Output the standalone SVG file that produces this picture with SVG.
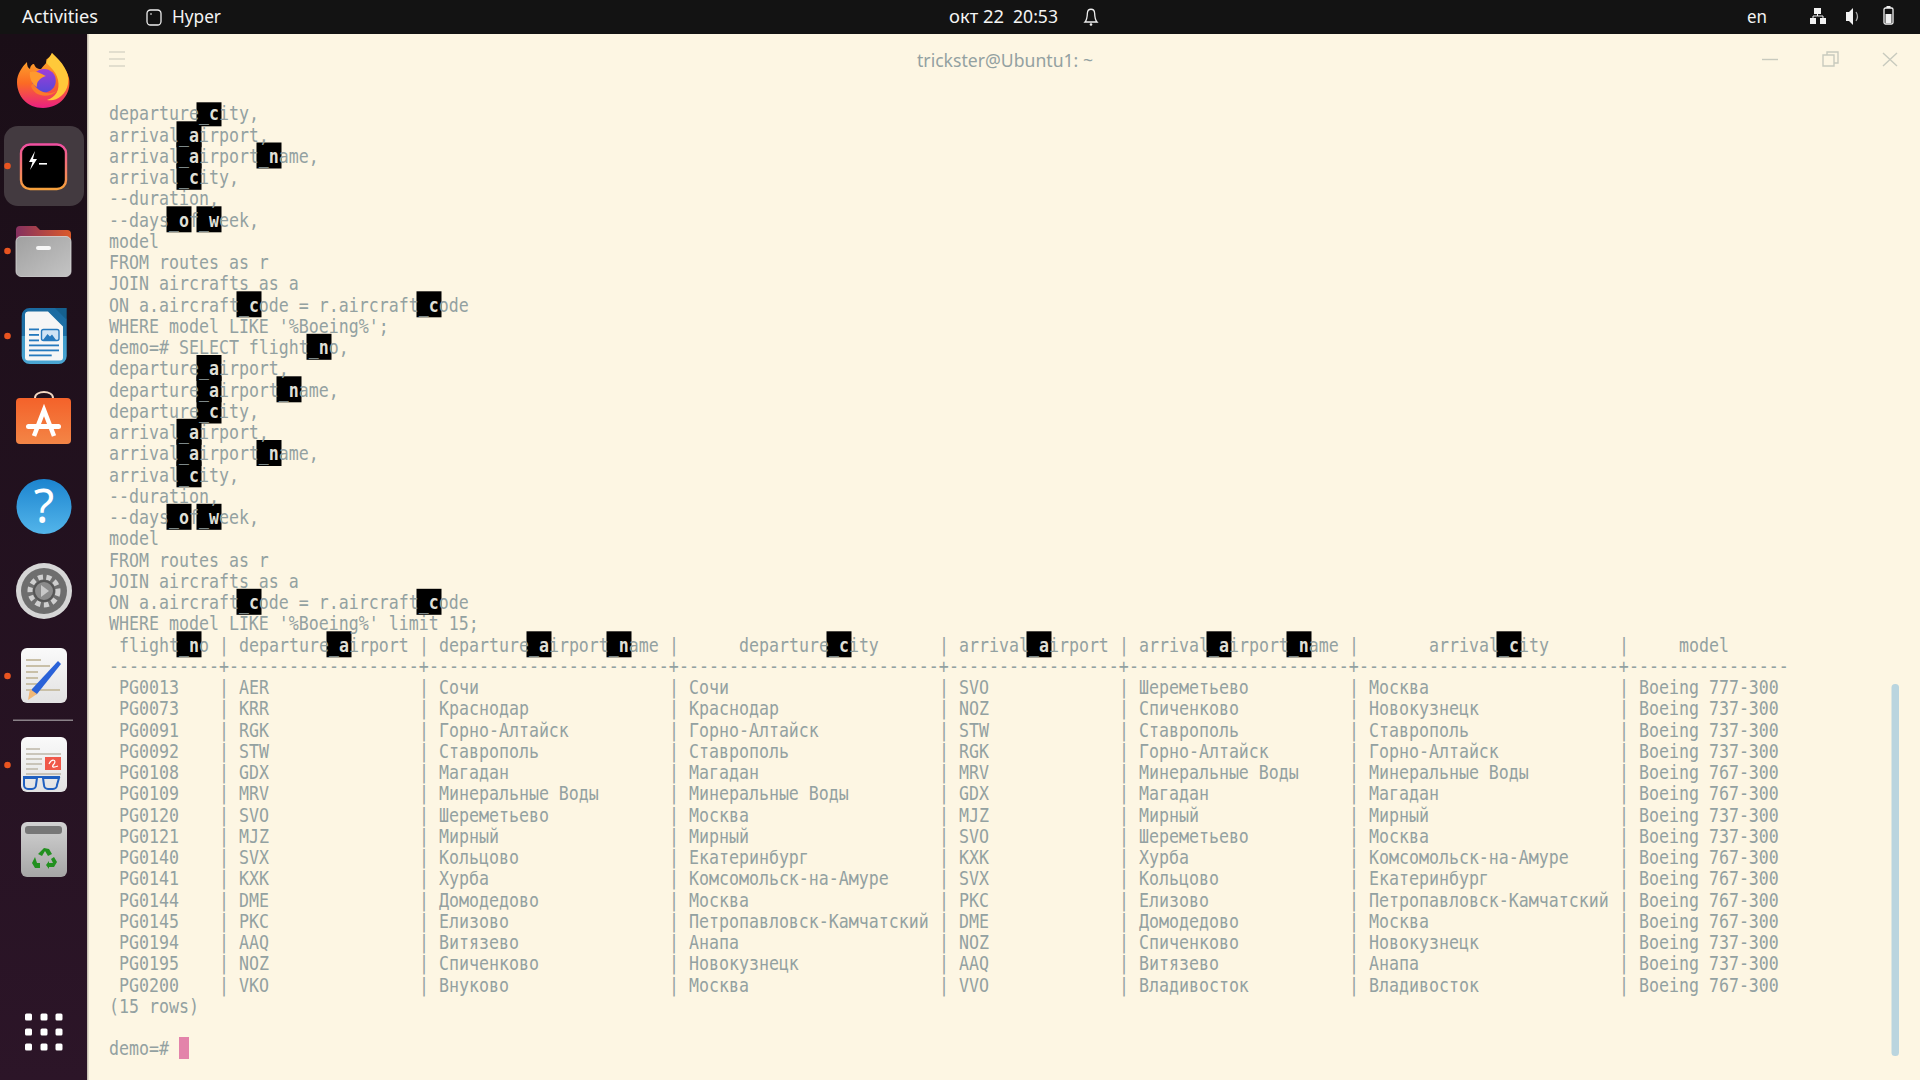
<svg xmlns="http://www.w3.org/2000/svg" width="1920" height="1080" viewBox="0 0 1920 1080">
<style>
.t{font-family:"DejaVu Sans Mono","Liberation Mono",monospace;font-size:19px;fill:#93a1a1;white-space:pre}
.u{fill:#7d8888}
.l{font-weight:bold;fill:#dfdfd6}
.b{fill:#000}
.top{font-family:"Noto Sans","Open Sans",sans-serif;font-size:18px;fill:#f4f4f4}
.ctl{fill:none;stroke:#c8cabe;stroke-width:1.4}
.dot{fill:#e95420}
.dk{fill:#fff}
</style>
<defs>
<linearGradient id="side" x1="0" y1="0" x2="0" y2="1"><stop offset="0" stop-color="#1a0e17"/><stop offset="1" stop-color="#2c1528"/></linearGradient>
<linearGradient id="term" x1="0" y1="0" x2="0" y2="1"><stop offset="0" stop-color="#ef4fa0"/><stop offset="1" stop-color="#f7a13c"/></linearGradient>
<linearGradient id="ff" x1="0" y1="0" x2="0" y2="1"><stop offset="0" stop-color="#ffb52e"/><stop offset=".55" stop-color="#fb6b24"/><stop offset="1" stop-color="#ea1f82"/></linearGradient>
<linearGradient id="fp" x1="0" y1="0" x2="0" y2="1"><stop offset="0" stop-color="#a03ed8"/><stop offset="1" stop-color="#5848d8"/></linearGradient>
<linearGradient id="help" x1="0" y1="0" x2="0" y2="1"><stop offset="0" stop-color="#1c84cf"/><stop offset="1" stop-color="#53b5ea"/></linearGradient>
<linearGradient id="grey" x1="0" y1="0" x2="0" y2="1"><stop offset="0" stop-color="#d2d2d2"/><stop offset="1" stop-color="#a6a6a6"/></linearGradient>
<linearGradient id="fb" x1="0" y1="0" x2="1" y2="1"><stop offset="0" stop-color="#a0a0a0"/><stop offset="1" stop-color="#c4c4c4"/></linearGradient>
<linearGradient id="shop" x1="0" y1="0" x2="0" y2="1"><stop offset="0" stop-color="#f4622a"/><stop offset="1" stop-color="#f38546"/></linearGradient>
<linearGradient id="fold" x1="0" y1="0" x2="1" y2="0"><stop offset="0" stop-color="#84305f"/><stop offset="1" stop-color="#dc5a2a"/></linearGradient>
<linearGradient id="wr" x1="0" y1="0" x2="0" y2="1"><stop offset="0" stop-color="#1b6aa0"/><stop offset=".5" stop-color="#1f72a8"/><stop offset=".5" stop-color="#3f9ccb"/><stop offset="1" stop-color="#4aa5d2"/></linearGradient>
<linearGradient id="pg" x1="0" y1="0" x2="0" y2="1"><stop offset="0" stop-color="#fafafa"/><stop offset="1" stop-color="#e2e2e2"/></linearGradient>
</defs>

<rect id="window" x="87" y="33" width="1833" height="1047" fill="#fdf6e3"/>
<g id="topbar">
<rect width="1920" height="34" fill="#131313"/>
<text class="top" x="22" y="23" textLength="76" lengthAdjust="spacingAndGlyphs">Activities</text>
<rect x="147" y="10" width="14" height="15" rx="3.500" fill="#111" stroke="#eee" stroke-width="1.300"/>
<path d="M150 14h2" stroke="#eee" stroke-width="1.200"/>
<text class="top" x="172" y="23" textLength="49" lengthAdjust="spacingAndGlyphs">Hyper</text>
<text class="top" x="949" y="23" textLength="55" lengthAdjust="spacingAndGlyphs">окт 22</text>
<text class="top" x="1013" y="23" textLength="45" lengthAdjust="spacingAndGlyphs">20:53</text>
<path d="M1085 22c2-2 2.200-4 2.400-9c.3-5 6.900-5 7.200 0c.2 5 .4 7 2.400 9z" fill="none" stroke="#eee" stroke-width="1.300"/>
<circle cx="1091" cy="24.500" r="1.300" fill="#eee"/>
<text class="top" x="1747" y="23" textLength="20" lengthAdjust="spacingAndGlyphs">en</text>
<g id="tray" fill="#f2f2f2">
<rect x="1814" y="8" width="7" height="6"/><rect x="1810" y="18" width="6" height="6"/><rect x="1820" y="18" width="6" height="6"/>
<path d="M1817.500 14v2h-4.500v2M1817.500 16h5.500v2" fill="none" stroke="#f2f2f2"/>
<path d="M1846 12h3l4-4v17l-4-4h-3z"/>
<path d="M1856 12c2 3 2 6 0 9" fill="none" stroke="#aaa" stroke-width="1.200"/>
<rect x="1884" y="8" width="9" height="16" rx="1.500" fill="none" stroke="#f2f2f2" stroke-width="1.300"/><rect x="1886.500" y="6" width="4" height="2"/><rect x="1885.500" y="14" width="6" height="9"/>
</g>
</g>
<g id="dock">
<rect y="34" width="87" height="1046" fill="url(#side)"/>
<rect x="87" y="34" width="1.500" height="1046" fill="#c9c2b4"/>
<rect x="4" y="126" width="80" height="80" rx="14" fill="#433a40"/>
<circle class="dot" cx="7.500" cy="166" r="3.300"/><circle class="dot" cx="7.500" cy="251" r="3.300"/><circle class="dot" cx="7.500" cy="336" r="3.300"/><circle class="dot" cx="7.500" cy="676" r="3.300"/><circle class="dot" cx="7.500" cy="765" r="3.300"/>
<g id="firefox">
<path d="M52 53C55 62 66 66 69 78C72 94 60 108 43 108C27 108 17 96 17 82C17 74 22 67 27 62C27 66 28 68 30 69C30 66 32 64 34 64C35 67 37 69 41 69C45 64 48 62 46 60C48 58 51 56 52 53Z" fill="url(#ff)"/>
<path d="M52 53C62 62 70 72 68 84C66 95 56 102 47 100C56 97 60 90 58 80C56 70 48 66 46 62C48 59 51 56 52 53Z" fill="#ffc93a"/>
<circle cx="44" cy="80.700" r="11.800" fill="url(#fp)"/>
<path d="M31 86C34 96 48 100 58 90C52 95 40 95 33 83Z" fill="#fb7a2a"/>
<path d="M30 72C36 70 42 74 46 76C40 78 36 82 37 87C32 84 29 78 30 72Z" fill="#ff9a2e"/>
</g>
<g id="terminal-icon">
<rect x="21" y="144.500" width="45" height="44.500" rx="9" fill="#000" stroke="url(#term)" stroke-width="2.400"/>
<path d="M35 151l-6 11h3.500l-2.500 8l7-11h-4z" fill="#fff"/>
<rect x="39" y="163" width="8" height="1.600" fill="#fff"/>
</g>
<g id="files-icon">
<path d="M16 240v-10a4 4 0 0 1 4-4h16l4 4h27a4 4 0 0 1 4 4v6z" fill="url(#fold)"/>
<rect x="16" y="236.500" width="55" height="40" rx="5" fill="url(#fb)" stroke="#d8d8d8" stroke-width=".8"/>
<rect x="36" y="246" width="15" height="4" rx="2" fill="#f6f6f6"/>
</g>
<g id="writer-icon">
<path d="M21.700 316a8 8 0 0 1 8-8h26l11 11v37a8 8 0 0 1-8 8h-29a8 8 0 0 1-8-8z" fill="url(#wr)"/>
<path d="M55 308h11.700v11.700z" fill="#15608f"/>
<path d="M25 314a3 3 0 0 1 3-2.500h20l15 15v31a3 3 0 0 1-3 3h-32a3 3 0 0 1-3-3z" fill="#f6f6f6"/>
<g fill="#2579bd"><rect x="29" y="328.500" width="10" height="1.800"/><rect x="29" y="334" width="10" height="1.800"/><rect x="29" y="339.500" width="10" height="1.800"/><rect x="29" y="344.500" width="30" height="1.800"/><rect x="29" y="349.500" width="30" height="1.800"/><rect x="29" y="354.500" width="22.700" height="1.800"/></g>
<rect x="41.500" y="329.500" width="17.500" height="11" rx="2" fill="#cfe4f5" stroke="#2579bd" stroke-width="1.400"/><path d="M43 340l4.500-6l2.500 2.500l2-2l4 5.500z" fill="#2579bd"/>
</g>
<g id="software-icon">
<path d="M35 398c0-8 18-8 18 0" fill="none" stroke="#f3d9c4" stroke-width="2"/>
<rect x="16" y="398" width="55" height="46" rx="4" fill="url(#shop)"/>
<path d="M34 436l10-26l10 26" fill="none" stroke="#fff" stroke-width="4.500"/>
<rect x="26" y="424" width="35" height="5" rx="2.500" fill="#fff"/>
</g>
<g id="help-icon">
<circle cx="44" cy="506.500" r="27.500" fill="url(#help)"/>
<text x="44" y="523" text-anchor="middle" style="font-family:'Noto Sans',sans-serif;font-size:47px;fill:#fff">?</text>
</g>
<g id="settings-icon">
<circle cx="44" cy="591" r="28" fill="#d6d6d6"/>
<circle cx="44" cy="591" r="23" fill="#6e6e6e"/>
<circle cx="44" cy="591" r="14" fill="none" stroke="#cfcfcf" stroke-width="5" stroke-dasharray="5 3.500"/>
<circle cx="44" cy="591" r="10" fill="#8b8b8b" stroke="#555" stroke-width="2"/>
<path d="M41 585l8 6l-8 6z" fill="#c8c8c8"/>
</g>
<g id="notes-icon">
<rect x="21" y="648" width="46" height="55" rx="6" fill="url(#pg)"/>
<path d="M26 660h15M26 666h24M26 672h12M26 678h12M26 684h12M26 690h34" stroke="#c9c0a8" stroke-width="1.800"/>
<path d="M58 661l3 3l-24 30l-7 2l2-7z" fill="#2a62d8"/><path d="M30 689l7 5l-9 6z" fill="#f0b878"/>
</g>
<rect x="13" y="719.500" width="60" height="1.500" fill="#8a8288"/>
<g id="reader-icon">
<rect x="21" y="737" width="46" height="55" rx="6" fill="url(#pg)"/>
<path d="M26 749h14M26 754h35M26 759h16M26 764h16M26 769h12M26 774h35" stroke="#bdb7a8" stroke-width="1.600"/>
<rect x="45" y="757" width="16" height="13" fill="#f0584a"/>
<path d="M49 764c3-6 8-4 5 0c-3 3-1 4 4 2" fill="none" stroke="#fff" stroke-width="1.200"/>
<path d="M23 777h37" stroke="#2060c0" stroke-width="2"/>
<path d="M24 778h13l-1 7a4 4 0 0 1-4 4h-4a4 4 0 0 1-4-4zM43 778h16l-2 7a4 4 0 0 1-4 4h-5a4 4 0 0 1-4-4z" fill="none" stroke="#2060c0" stroke-width="2"/>
</g>
<g id="trash-icon">
<rect x="21" y="822" width="46" height="55" rx="6" fill="url(#grey)"/>
<rect x="25" y="826" width="37" height="8" rx="3" fill="#777"/>
<path d="M44 848l5 1l3 5l-4 2l-3-5l-3 5l-4-2zM35 857l-3 6l3 5h5v-5h-3zM54 857l-3 2l2 4h-4v-2l-3 4l3 4v-2h5l3-5z" fill="#22901f"/>
</g>
<g id="apps" class="dk">
<rect x="25" y="1013.500" width="7" height="7" rx="1.500"/><rect x="40.500" y="1013.500" width="7" height="7" rx="1.500"/><rect x="55.500" y="1013.500" width="7" height="7" rx="1.500"/>
<rect x="25" y="1028.500" width="7" height="7" rx="1.500"/><rect x="40.500" y="1028.500" width="7" height="7" rx="1.500"/><rect x="55.500" y="1028.500" width="7" height="7" rx="1.500"/>
<rect x="25" y="1043.500" width="7" height="7" rx="1.500"/><rect x="40.500" y="1043.500" width="7" height="7" rx="1.500"/><rect x="55.500" y="1043.500" width="7" height="7" rx="1.500"/>
</g>
</g>
<g id="titlebar">
<path d="M109 52h16M109 59h16M109 66h16" stroke="#d9d6c8" stroke-width="1.300"/>
<text x="1005" y="67" text-anchor="middle" textLength="176" lengthAdjust="spacingAndGlyphs" style="font-family:'Noto Sans',sans-serif;font-size:18px;fill:#93a1a1">trickster@Ubuntu1: ~</text>
<path class="ctl" d="M1762 59.500h16"/>
<path class="ctl" d="M1823 55h11v11h-11zM1827 55v-3h11v11h-4"/>
<path class="ctl" d="M1883 53l14 13M1897 53l-14 13"/>
</g>
<g id="highlight-boxes">
<rect class="b" x="196.500" y="102.300" width="25" height="24"/>
<rect class="b" x="176.500" y="121.300" width="25" height="26"/><rect class="b" x="176.500" y="142.500" width="25" height="26"/><rect class="b" x="256.500" y="142.500" width="25" height="26"/><rect class="b" x="176.500" y="163.800" width="25" height="26"/>
<rect class="b" x="166.500" y="206.300" width="25" height="26"/><rect class="b" x="196.500" y="206.300" width="25" height="26"/>
<rect class="b" x="236.500" y="291.300" width="25" height="26"/><rect class="b" x="416.500" y="291.300" width="25" height="26"/>
<rect class="b" x="306.500" y="333.800" width="25" height="26"/>
<rect class="b" x="196.500" y="355" width="25" height="26"/><rect class="b" x="196.500" y="376.300" width="25" height="26"/><rect class="b" x="276.500" y="376.300" width="25" height="26"/><rect class="b" x="196.500" y="397.500" width="25" height="26"/>
<rect class="b" x="176.500" y="418.800" width="25" height="26"/><rect class="b" x="176.500" y="440" width="25" height="26"/><rect class="b" x="256.500" y="440" width="25" height="26"/><rect class="b" x="176.500" y="461.300" width="25" height="26"/>
<rect class="b" x="166.500" y="503.800" width="25" height="26"/><rect class="b" x="196.500" y="503.800" width="25" height="26"/>
<rect class="b" x="236.500" y="588.800" width="25" height="26"/><rect class="b" x="416.500" y="588.800" width="25" height="26"/>
<rect class="b" x="176.500" y="631.300" width="25" height="26"/><rect class="b" x="326.500" y="631.300" width="25" height="26"/><rect class="b" x="526.500" y="631.300" width="25" height="26"/><rect class="b" x="606.500" y="631.300" width="25" height="26"/><rect class="b" x="826.500" y="631.300" width="25" height="26"/><rect class="b" x="1026.500" y="631.300" width="25" height="26"/><rect class="b" x="1206.500" y="631.300" width="25" height="26"/><rect class="b" x="1286.500" y="631.300" width="25" height="26"/><rect class="b" x="1496.500" y="631.300" width="25" height="26"/>
</g>
<g id="terminal-text" transform="translate(109,.5) scale(.8742,1)">
<text class="t" y="120">departure<tspan class="u">_</tspan><tspan class="l">c</tspan>ity,</text>
<text class="t" y="141.250">arrival<tspan class="u">_</tspan><tspan class="l">a</tspan>irport,</text>
<text class="t" y="162.500">arrival<tspan class="u">_</tspan><tspan class="l">a</tspan>irport<tspan class="u">_</tspan><tspan class="l">n</tspan>ame,</text>
<text class="t" y="183.750">arrival<tspan class="u">_</tspan><tspan class="l">c</tspan>ity,</text>
<text class="t" y="205">--duration,</text>
<text class="t" y="226.250">--days<tspan class="u">_</tspan><tspan class="l">o</tspan>f<tspan class="u">_</tspan><tspan class="l">w</tspan>eek,</text>
<text class="t" y="247.500">model</text>
<text class="t" y="268.750">FROM routes as r</text>
<text class="t" y="290">JOIN aircrafts as a</text>
<text class="t" y="311.250">ON a.aircraft<tspan class="u">_</tspan><tspan class="l">c</tspan>ode = r.aircraft<tspan class="u">_</tspan><tspan class="l">c</tspan>ode</text>
<text class="t" y="332.500">WHERE model LIKE '%Boeing%';</text>
<text class="t" y="353.750">demo=# SELECT flight<tspan class="u">_</tspan><tspan class="l">n</tspan>o,</text>
<text class="t" y="375">departure<tspan class="u">_</tspan><tspan class="l">a</tspan>irport,</text>
<text class="t" y="396.250">departure<tspan class="u">_</tspan><tspan class="l">a</tspan>irport<tspan class="u">_</tspan><tspan class="l">n</tspan>ame,</text>
<text class="t" y="417.500">departure<tspan class="u">_</tspan><tspan class="l">c</tspan>ity,</text>
<text class="t" y="438.750">arrival<tspan class="u">_</tspan><tspan class="l">a</tspan>irport,</text>
<text class="t" y="460">arrival<tspan class="u">_</tspan><tspan class="l">a</tspan>irport<tspan class="u">_</tspan><tspan class="l">n</tspan>ame,</text>
<text class="t" y="481.250">arrival<tspan class="u">_</tspan><tspan class="l">c</tspan>ity,</text>
<text class="t" y="502.500">--duration,</text>
<text class="t" y="523.750">--days<tspan class="u">_</tspan><tspan class="l">o</tspan>f<tspan class="u">_</tspan><tspan class="l">w</tspan>eek,</text>
<text class="t" y="545">model</text>
<text class="t" y="566.250">FROM routes as r</text>
<text class="t" y="587.500">JOIN aircrafts as a</text>
<text class="t" y="608.750">ON a.aircraft<tspan class="u">_</tspan><tspan class="l">c</tspan>ode = r.aircraft<tspan class="u">_</tspan><tspan class="l">c</tspan>ode</text>
<text class="t" y="630">WHERE model LIKE '%Boeing%' limit 15;</text>
<text class="t" y="651.250"><tspan x="11.440">flight<tspan class="u">_</tspan><tspan class="l">n</tspan>o</tspan><tspan x="125.830">|</tspan><tspan x="148.710">departure<tspan class="u">_</tspan><tspan class="l">a</tspan>irport</tspan><tspan x="354.610">|</tspan><tspan x="377.490">departure<tspan class="u">_</tspan><tspan class="l">a</tspan>irport<tspan class="u">_</tspan><tspan class="l">n</tspan>ame</tspan><tspan x="640.580">|</tspan><tspan x="720.650">departure<tspan class="u">_</tspan><tspan class="l">c</tspan>ity</tspan><tspan x="949.440">|</tspan><tspan x="972.320">arrival<tspan class="u">_</tspan><tspan class="l">a</tspan>irport</tspan><tspan x="1155.340">|</tspan><tspan x="1178.220">arrival<tspan class="u">_</tspan><tspan class="l">a</tspan>irport<tspan class="u">_</tspan><tspan class="l">n</tspan>ame</tspan><tspan x="1418.440">|</tspan><tspan x="1509.950">arrival<tspan class="u">_</tspan><tspan class="l">c</tspan>ity</tspan><tspan x="1727.290">|</tspan><tspan x="1795.920">model</tspan></text>
<text class="t" y="672.500"><tspan x="0">-----------+</tspan><tspan x="137.270">-------------------+</tspan><tspan x="366.050">------------------------+</tspan><tspan x="652.020">--------------------------+</tspan><tspan x="960.880">-----------------+</tspan><tspan x="1166.780">----------------------+</tspan><tspan x="1429.880">--------------------------+</tspan><tspan x="1738.730">----------------</tspan></text>
<text class="t" y="693.750"><tspan x="11.440">PG0013</tspan><tspan x="125.830">| AER</tspan><tspan x="354.610">| Сочи</tspan><tspan x="640.580">| Сочи</tspan><tspan x="949.440">| SVO</tspan><tspan x="1155.340">| Шереметьево</tspan><tspan x="1418.440">| Москва</tspan><tspan x="1727.290">| Boeing 777-300</tspan></text>
<text class="t" y="715"><tspan x="11.440">PG0073</tspan><tspan x="125.830">| KRR</tspan><tspan x="354.610">| Краснодар</tspan><tspan x="640.580">| Краснодар</tspan><tspan x="949.440">| NOZ</tspan><tspan x="1155.340">| Спиченково</tspan><tspan x="1418.440">| Новокузнецк</tspan><tspan x="1727.290">| Boeing 737-300</tspan></text>
<text class="t" y="736.250"><tspan x="11.440">PG0091</tspan><tspan x="125.830">| RGK</tspan><tspan x="354.610">| Горно-Алтайск</tspan><tspan x="640.580">| Горно-Алтайск</tspan><tspan x="949.440">| STW</tspan><tspan x="1155.340">| Ставрополь</tspan><tspan x="1418.440">| Ставрополь</tspan><tspan x="1727.290">| Boeing 737-300</tspan></text>
<text class="t" y="757.500"><tspan x="11.440">PG0092</tspan><tspan x="125.830">| STW</tspan><tspan x="354.610">| Ставрополь</tspan><tspan x="640.580">| Ставрополь</tspan><tspan x="949.440">| RGK</tspan><tspan x="1155.340">| Горно-Алтайск</tspan><tspan x="1418.440">| Горно-Алтайск</tspan><tspan x="1727.290">| Boeing 737-300</tspan></text>
<text class="t" y="778.750"><tspan x="11.440">PG0108</tspan><tspan x="125.830">| GDX</tspan><tspan x="354.610">| Магадан</tspan><tspan x="640.580">| Магадан</tspan><tspan x="949.440">| MRV</tspan><tspan x="1155.340">| Минеральные Воды</tspan><tspan x="1418.440">| Минеральные Воды</tspan><tspan x="1727.290">| Boeing 767-300</tspan></text>
<text class="t" y="800"><tspan x="11.440">PG0109</tspan><tspan x="125.830">| MRV</tspan><tspan x="354.610">| Минеральные Воды</tspan><tspan x="640.580">| Минеральные Воды</tspan><tspan x="949.440">| GDX</tspan><tspan x="1155.340">| Магадан</tspan><tspan x="1418.440">| Магадан</tspan><tspan x="1727.290">| Boeing 767-300</tspan></text>
<text class="t" y="821.250"><tspan x="11.440">PG0120</tspan><tspan x="125.830">| SVO</tspan><tspan x="354.610">| Шереметьево</tspan><tspan x="640.580">| Москва</tspan><tspan x="949.440">| MJZ</tspan><tspan x="1155.340">| Мирный</tspan><tspan x="1418.440">| Мирный</tspan><tspan x="1727.290">| Boeing 737-300</tspan></text>
<text class="t" y="842.500"><tspan x="11.440">PG0121</tspan><tspan x="125.830">| MJZ</tspan><tspan x="354.610">| Мирный</tspan><tspan x="640.580">| Мирный</tspan><tspan x="949.440">| SVO</tspan><tspan x="1155.340">| Шереметьево</tspan><tspan x="1418.440">| Москва</tspan><tspan x="1727.290">| Boeing 737-300</tspan></text>
<text class="t" y="863.750"><tspan x="11.440">PG0140</tspan><tspan x="125.830">| SVX</tspan><tspan x="354.610">| Кольцово</tspan><tspan x="640.580">| Екатеринбург</tspan><tspan x="949.440">| KXK</tspan><tspan x="1155.340">| Хурба</tspan><tspan x="1418.440">| Комсомольск-на-Амуре</tspan><tspan x="1727.290">| Boeing 767-300</tspan></text>
<text class="t" y="885"><tspan x="11.440">PG0141</tspan><tspan x="125.830">| KXK</tspan><tspan x="354.610">| Хурба</tspan><tspan x="640.580">| Комсомольск-на-Амуре</tspan><tspan x="949.440">| SVX</tspan><tspan x="1155.340">| Кольцово</tspan><tspan x="1418.440">| Екатеринбург</tspan><tspan x="1727.290">| Boeing 767-300</tspan></text>
<text class="t" y="906.250"><tspan x="11.440">PG0144</tspan><tspan x="125.830">| DME</tspan><tspan x="354.610">| Домодедово</tspan><tspan x="640.580">| Москва</tspan><tspan x="949.440">| PKC</tspan><tspan x="1155.340">| Елизово</tspan><tspan x="1418.440">| Петропавловск-Камчатский</tspan><tspan x="1727.290">| Boeing 767-300</tspan></text>
<text class="t" y="927.500"><tspan x="11.440">PG0145</tspan><tspan x="125.830">| PKC</tspan><tspan x="354.610">| Елизово</tspan><tspan x="640.580">| Петропавловск-Камчатский</tspan><tspan x="949.440">| DME</tspan><tspan x="1155.340">| Домодедово</tspan><tspan x="1418.440">| Москва</tspan><tspan x="1727.290">| Boeing 767-300</tspan></text>
<text class="t" y="948.750"><tspan x="11.440">PG0194</tspan><tspan x="125.830">| AAQ</tspan><tspan x="354.610">| Витязево</tspan><tspan x="640.580">| Анапа</tspan><tspan x="949.440">| NOZ</tspan><tspan x="1155.340">| Спиченково</tspan><tspan x="1418.440">| Новокузнецк</tspan><tspan x="1727.290">| Boeing 737-300</tspan></text>
<text class="t" y="970"><tspan x="11.440">PG0195</tspan><tspan x="125.830">| NOZ</tspan><tspan x="354.610">| Спиченково</tspan><tspan x="640.580">| Новокузнецк</tspan><tspan x="949.440">| AAQ</tspan><tspan x="1155.340">| Витязево</tspan><tspan x="1418.440">| Анапа</tspan><tspan x="1727.290">| Boeing 737-300</tspan></text>
<text class="t" y="991.250"><tspan x="11.440">PG0200</tspan><tspan x="125.830">| VKO</tspan><tspan x="354.610">| Внуково</tspan><tspan x="640.580">| Москва</tspan><tspan x="949.440">| VVO</tspan><tspan x="1155.340">| Владивосток</tspan><tspan x="1418.440">| Владивосток</tspan><tspan x="1727.290">| Boeing 767-300</tspan></text>
<text class="t" y="1012.500">(15 rows)</text>
<text class="t" y="1055">demo=#</text>
</g>
<rect id="cursor" x="179" y="1037" width="10" height="22" fill="#e384aa"/>
<rect id="scrollbar" x="1891.500" y="684" width="7.500" height="372" rx="3.500" fill="#bad5df"/>
</svg>
